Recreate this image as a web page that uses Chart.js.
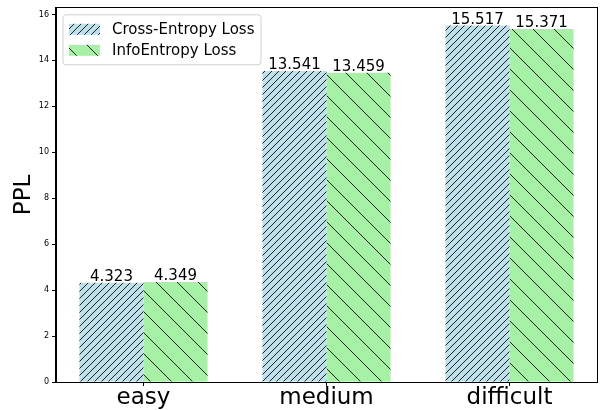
<!DOCTYPE html>
<html>
<head>
<meta charset="utf-8">
<script src="https://cdn.jsdelivr.net/npm/chart.js@4/dist/chart.umd.min.js"></script>
<style>
  html, body { margin: 0; padding: 0; background: #fff; }
  #c { display: block; }
</style>
</head>
<body>
<canvas id="c" width="602" height="410"></canvas>
<script>
const categories = ['easy', 'medium', 'difficult'];
const crossEntropy = [4.323, 13.541, 15.517];
const infoEntropy = [4.349, 13.459, 15.371];
const seriesLabels = ['Cross-Entropy Loss', 'InfoEntropy Loss'];
const yTickValues = [0, 2, 4, 6, 8, 10, 12, 14, 16];
const xTickValues = [0, 1, 2];
const yAxisTitle = 'PPL';

const FONT = "'DejaVu Sans', 'Liberation Sans', sans-serif";

function makeHatch(bg, spacing, dir) {
  const c = document.createElement('canvas');
  c.width = spacing; c.height = spacing;
  const g = c.getContext('2d');
  g.fillStyle = bg;
  g.fillRect(0, 0, spacing, spacing);
  g.strokeStyle = 'rgba(0,0,0,0.85)';
  g.lineWidth = 1;
  g.beginPath();
  const s = spacing;
  if (dir === '/') {
    g.moveTo(0, s); g.lineTo(s, 0);
    g.moveTo(-2, 2); g.lineTo(2, -2);
    g.moveTo(s - 2, s + 2); g.lineTo(s + 2, s - 2);
  } else {
    g.moveTo(0, 0); g.lineTo(s, s);
    g.moveTo(s - 2, -2); g.lineTo(s + 2, 2);
    g.moveTo(-2, s - 2); g.lineTo(2, s + 2);
  }
  g.stroke();
  return g.createPattern(c, 'repeat');
}

const ctx0 = document.getElementById('c').getContext('2d');
const bluePattern = makeHatch('rgb(189,224,235)', 7, '/');
const greenPattern = makeHatch('rgb(166,241,166)', 21, '\\');
const patterns = [bluePattern, greenPattern];

const overlay = {
  id: 'overlay',
  afterDatasetsDraw(chart) {
    const g = chart.ctx;
    const a = chart.chartArea;
    g.save();
    g.font = '15px ' + FONT;
    g.fillStyle = '#000';
    g.textAlign = 'center';
    g.textBaseline = 'alphabetic';
    chart.data.datasets.forEach((ds, di) => {
      const meta = chart.getDatasetMeta(di);
      meta.data.forEach((bar, i) => {
        g.fillText(ds.data[i].y.toFixed(3), bar.x, bar.y - 2);
      });
    });
    g.restore();
    g.save();
    g.strokeStyle = '#000';
    g.lineWidth = 1;
    g.strokeRect(Math.round(a.left) - 0.5, Math.round(a.top) - 0.5, Math.round(a.right - a.left) + 1, Math.round(a.bottom - a.top) + 1);
    g.restore();
  },
  afterDraw(chart) {
    const g = chart.ctx;
    const a = chart.chartArea;
    const lx = a.left + 7, ly = a.top + 7, lw = 198, lh = 50;
    g.save();
    const r = 3;
    g.beginPath();
    g.moveTo(lx + r, ly);
    g.lineTo(lx + lw - r, ly);
    g.quadraticCurveTo(lx + lw, ly, lx + lw, ly + r);
    g.lineTo(lx + lw, ly + lh - r);
    g.quadraticCurveTo(lx + lw, ly + lh, lx + lw - r, ly + lh);
    g.lineTo(lx + r, ly + lh);
    g.quadraticCurveTo(lx, ly + lh, lx, ly + lh - r);
    g.lineTo(lx, ly + r);
    g.quadraticCurveTo(lx, ly, lx + r, ly);
    g.closePath();
    g.fillStyle = 'rgba(255,255,255,0.8)';
    g.fill();
    g.strokeStyle = '#d0d0d0';
    g.lineWidth = 1;
    g.stroke();
    chart.data.datasets.forEach((ds, di) => {
      const rowY = ly + 9 + di * 21;
      g.fillStyle = patterns[di];
      g.fillRect(lx + 6, rowY, 31, 11);
      g.fillStyle = '#000';
      g.font = '15px ' + FONT;
      g.textAlign = 'left';
      g.textBaseline = 'middle';
      g.fillText(ds.label, lx + 49, rowY + 6);
    });
    g.restore();
  }
};

new Chart(ctx0, {
  type: 'bar',
  data: {
    datasets: [
      {
        label: seriesLabels[0],
        data: crossEntropy.map((v, i) => ({ x: xTickValues[i], y: v })),
        backgroundColor: bluePattern,
        borderWidth: 0
      },
      {
        label: seriesLabels[1],
        data: infoEntropy.map((v, i) => ({ x: xTickValues[i], y: v })),
        backgroundColor: greenPattern,
        borderWidth: 0
      }
    ]
  },
  options: {
    responsive: false,
    devicePixelRatio: 1,
    animation: false,
    categoryPercentage: 0.7,
    barPercentage: 1.0,
    layout: { padding: { top: 6, right: 5, left: 0, bottom: 0 } },
    plugins: {
      legend: { display: false },
      tooltip: { enabled: false }
    },
    scales: {
      x: {
        type: 'linear',
        min: -0.478,
        max: 2.478,
        offset: false,
        afterBuildTicks(scale) { scale.ticks = xTickValues.map(v => ({ value: v })); },
        afterFit(scale) { scale.height = 28; },
        ticks: {
          autoSkip: false,
          maxRotation: 0,
          padding: -2,
          color: '#000',
          font: { family: FONT, size: 23 },
          callback: (v) => categories[v]
        },
        grid: { offset: false, drawOnChartArea: false, drawTicks: true, tickLength: 4, color: '#000', lineWidth: 1 },
        border: { display: true, color: '#000', width: 1 }
      },
      y: {
        min: 0,
        max: 16.29,
        afterBuildTicks(scale) { scale.ticks = yTickValues.map(v => ({ value: v })); },
        afterFit(scale) { scale.width = 56; },
        ticks: {
          padding: 3,
          color: '#000',
          font: { family: FONT, size: 8 }
        },
        grid: { drawOnChartArea: false, drawTicks: true, tickLength: 4, color: '#000', lineWidth: 1 },
        border: { display: true, color: '#000', width: 1 },
        title: {
          display: true,
          text: yAxisTitle,
          color: '#000',
          font: { family: FONT, size: 23 },
          padding: { top: 10, bottom: 0 }
        }
      }
    }
  },
  plugins: [overlay]
});
</script>
</body>
</html>
